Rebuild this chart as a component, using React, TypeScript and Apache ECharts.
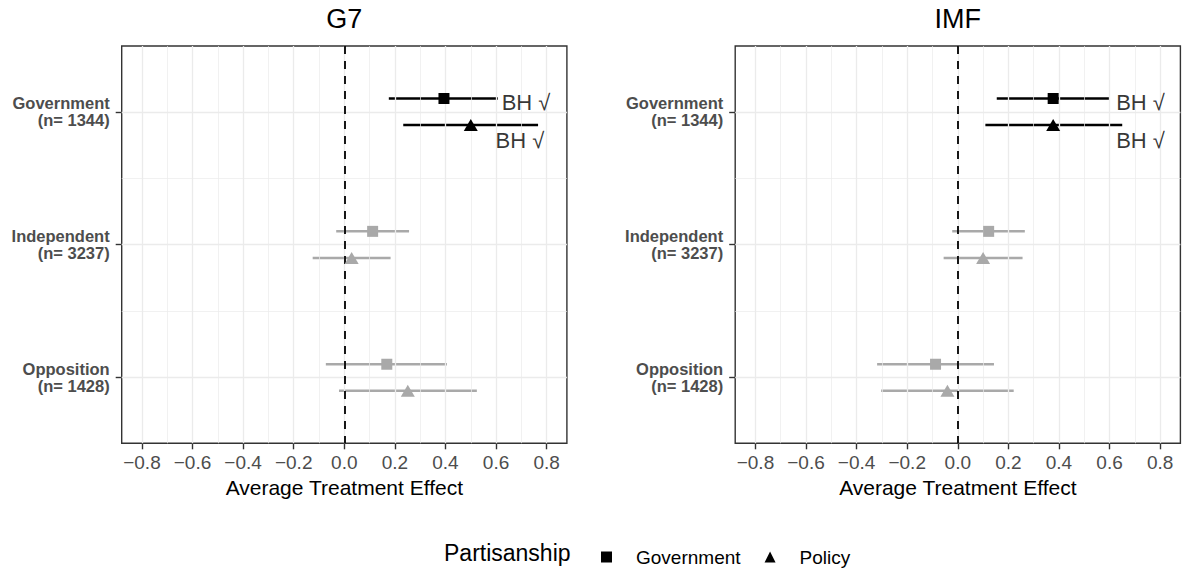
import React, { useEffect, useRef } from 'react';
import * as echarts from 'echarts';

// ---------- data ----------
const categories = ['Government', 'Independent', 'Opposition'];
const sampleSizes = [1344, 3237, 1428];
const panelTitles = ['G7', 'IMF'];
const seriesNames = ['Government', 'Policy'];
const xTickValues = [-0.8, -0.6, -0.4, -0.2, 0, 0.2, 0.4, 0.6, 0.8];
const xMinorValues = [-0.7, -0.5, -0.3, -0.1, 0.1, 0.3, 0.5, 0.7];
const yMajorValues = [1, 2, 3];
const yMinorValues = [1.5, 2.5];

// G7 panel
const g7GovEst = [0.394, 0.112, 0.168];
const g7GovLo = [0.176, -0.032, -0.073];
const g7GovHi = [0.607, 0.256, 0.406];
const g7GovSig = [true, false, false];
const g7PolEst = [0.5, 0.029, 0.251];
const g7PolLo = [0.233, -0.125, -0.021];
const g7PolHi = [0.766, 0.183, 0.524];
const g7PolSig = [true, false, false];
const g7BhX = [0.622, 0.598];
const g7BhY = [0.93, 1.213];

// IMF panel
const imfGovEst = [0.377, 0.122, -0.088];
const imfGovLo = [0.154, -0.022, -0.319];
const imfGovHi = [0.6, 0.265, 0.143];
const imfGovSig = [true, false, false];
const imfPolEst = [0.377, 0.1, -0.041];
const imfPolLo = [0.109, -0.056, -0.303];
const imfPolHi = [0.65, 0.256, 0.221];
const imfPolSig = [true, false, false];
const imfBhX = [0.626, 0.626];
const imfBhY = [0.93, 1.213];

const bhText = 'BH √';

// ---------- styling ----------
const FONT = '"Liberation Sans", Arial, Helvetica, sans-serif';
const SIG_COLOR = '#000000';
const NS_COLOR = '#A9A9A9';
const GRID_COLOR = '#EBEBEB';
const BORDER_COLOR = '#333333';
const LABEL_COLOR = '#4D4D4D';
const DODGE = 0.1;
const PANEL_TOP = 46;
const PANEL_HEIGHT = 397.3;
const PANEL_WIDTH = 445.2;
const PANEL_LEFTS = [121.7, 735.2];
const X_MIN = -0.88;
const X_MAX = 0.88;
const Y_MIN = 0.505;
const Y_MAX = 3.495;

type PanelData = {
  govEst: number[]; govLo: number[]; govHi: number[]; govSig: boolean[];
  polEst: number[]; polLo: number[]; polHi: number[]; polSig: boolean[];
  bhX: number[]; bhY: number[];
};

const panelData: PanelData[] = [
  { govEst: g7GovEst, govLo: g7GovLo, govHi: g7GovHi, govSig: g7GovSig,
    polEst: g7PolEst, polLo: g7PolLo, polHi: g7PolHi, polSig: g7PolSig,
    bhX: g7BhX, bhY: g7BhY },
  { govEst: imfGovEst, govLo: imfGovLo, govHi: imfGovHi, govSig: imfGovSig,
    polEst: imfPolEst, polLo: imfPolLo, polHi: imfPolHi, polSig: imfPolSig,
    bhX: imfBhX, bhY: imfBhY },
];

const fmtTick = (v: number) => {
  const s = (Math.abs(v) < 1e-9 ? 0 : v).toFixed(1);
  return s.replace('-', '\u2212');
};

function buildOption() {
  const grids: any[] = [];
  const xAxes: any[] = [];
  const yAxes: any[] = [];
  const series: any[] = [];
  const graphics: any[] = [];

  panelData.forEach((pd, i) => {
    grids.push({
      left: PANEL_LEFTS[i], top: PANEL_TOP, width: PANEL_WIDTH, height: PANEL_HEIGHT,
      show: true, borderColor: BORDER_COLOR, borderWidth: 1.4, backgroundColor: 'transparent',
      containLabel: false,
    });
    xAxes.push({
      type: 'value', gridIndex: i, min: X_MIN, max: X_MAX,
      axisLine: { show: false, onZero: false },
      axisTick: { show: true, customValues: xTickValues, length: 6, lineStyle: { color: BORDER_COLOR, width: 1.4 } },
      axisLabel: { show: true, customValues: xTickValues, formatter: fmtTick, fontSize: 19, color: LABEL_COLOR, margin: 10, fontFamily: FONT },
      splitLine: { show: false },
      name: 'Average Treatment Effect', nameLocation: 'middle', nameGap: 33,
      nameTextStyle: { fontSize: 21, color: '#000000', fontFamily: FONT },
    });
    yAxes.push({
      type: 'value', gridIndex: i, min: Y_MIN, max: Y_MAX, inverse: true,
      axisLine: { show: false, onZero: false },
      axisTick: { show: true, customValues: yMajorValues, length: 6, lineStyle: { color: BORDER_COLOR, width: 1.4 } },
      axisLabel: {
        show: true, customValues: yMajorValues,
        formatter: (v: number) => {
          const k = Math.round(v) - 1;
          return `${categories[k]}\n(n= ${sampleSizes[k]})`;
        },
        fontSize: 16.5, fontWeight: 'bold', color: LABEL_COLOR, lineHeight: 17, align: 'right', margin: 12, fontFamily: FONT,
      },
      splitLine: { show: false },
    });

    // grid lines (through the axes' scales via markLine)
    const gridLineData: any[] = [];
    xTickValues.forEach(v => gridLineData.push({ xAxis: v, lineStyle: { color: GRID_COLOR, width: 1.3, type: 'solid' } }));
    xMinorValues.forEach(v => gridLineData.push({ xAxis: v, lineStyle: { color: GRID_COLOR, width: 0.7, type: 'solid' } }));
    yMajorValues.forEach(v => gridLineData.push({ yAxis: v, lineStyle: { color: GRID_COLOR, width: 1.3, type: 'solid' } }));
    yMinorValues.forEach(v => gridLineData.push({ yAxis: v, lineStyle: { color: GRID_COLOR, width: 0.7, type: 'solid' } }));
    series.push({
      type: 'scatter', xAxisIndex: i, yAxisIndex: i, data: [], z: 1, silent: true,
      markLine: { silent: true, symbol: ['none', 'none'], label: { show: false }, emphasis: { disabled: true }, data: gridLineData, animation: false },
    });

    // error bars
    const barData: any[] = [];
    categories.forEach((_, k) => {
      barData.push([pd.govLo[k], pd.govHi[k], k + 1 - DODGE, pd.govSig[k] ? 1 : 0]);
      barData.push([pd.polLo[k], pd.polHi[k], k + 1 + DODGE, pd.polSig[k] ? 1 : 0]);
    });
    series.push({
      type: 'custom', xAxisIndex: i, yAxisIndex: i, z: 3, silent: true,
      data: barData,
      encode: { x: [0, 1], y: 2 },
      renderItem: (params: any, api: any) => {
        const y = api.value(2);
        const p1 = api.coord([api.value(0), y]);
        const p2 = api.coord([api.value(1), y]);
        return {
          type: 'line',
          shape: { x1: p1[0], y1: p1[1], x2: p2[0], y2: p2[1] },
          style: { stroke: api.value(3) ? SIG_COLOR : NS_COLOR, lineWidth: 2.5 },
        };
      },
    });

    // zero reference line
    series.push({
      type: 'scatter', xAxisIndex: i, yAxisIndex: i, data: [], z: 4, silent: true,
      markLine: {
        silent: true, symbol: ['none', 'none'], label: { show: false }, emphasis: { disabled: true }, animation: false,
        data: [{ xAxis: 0, lineStyle: { color: '#000000', width: 1.8, type: [8, 7] } }],
      },
    });

    // point estimates
    series.push({
      name: seriesNames[0], type: 'scatter', xAxisIndex: i, yAxisIndex: i, z: 5,
      symbol: 'rect', symbolSize: 11, itemStyle: { color: SIG_COLOR, opacity: 1 },
      data: categories.map((_, k) => ({
        value: [pd.govEst[k], k + 1 - DODGE],
        itemStyle: { color: pd.govSig[k] ? SIG_COLOR : NS_COLOR, opacity: 1 },
      })),
    });
    series.push({
      name: seriesNames[1], type: 'scatter', xAxisIndex: i, yAxisIndex: i, z: 5,
      symbol: 'triangle', symbolSize: [14, 12], itemStyle: { color: SIG_COLOR, opacity: 1 },
      data: categories.map((_, k) => ({
        value: [pd.polEst[k], k + 1 + DODGE],
        itemStyle: { color: pd.polSig[k] ? SIG_COLOR : NS_COLOR, opacity: 1 },
      })),
    });

    // BH annotations
    series.push({
      type: 'scatter', xAxisIndex: i, yAxisIndex: i, z: 6, silent: true,
      symbol: 'circle', symbolSize: 0, clip: false,
      data: pd.bhX.map((x, k) => [x, pd.bhY[k]]),
      label: {
        show: true, position: 'right', distance: 0, formatter: bhText,
        fontSize: 22, color: '#000000', fontFamily: FONT, align: 'left', verticalAlign: 'middle',
      },
    });

    graphics.push({
      type: 'text', x: PANEL_LEFTS[i] + PANEL_WIDTH / 2, y: 19,
      style: { text: panelTitles[i], fontSize: 27, fill: '#000000', fontFamily: FONT, align: 'center', verticalAlign: 'middle' },
    });
  });

  graphics.push({
    type: 'text', x: 444, y: 553,
    style: { text: 'Partisanship', fontSize: 23, fill: '#000000', fontFamily: FONT, align: 'left', verticalAlign: 'middle' },
  });

  return {
    animation: false,
    backgroundColor: '#FFFFFF',
    textStyle: { fontFamily: FONT },
    grid: grids,
    xAxis: xAxes,
    yAxis: yAxes,
    series,
    graphic: graphics,
    legend: {
      data: [
        { name: seriesNames[0], icon: 'rect' },
        { name: seriesNames[1], icon: 'triangle' },
      ],
      left: 601, top: 547.5, padding: 0,
      itemWidth: 11, itemHeight: 11, itemGap: 24,
      selectedMode: false,
      itemStyle: { color: '#000000' },
      textStyle: { fontSize: 19, color: '#000000', fontFamily: FONT, padding: [0, 0, 0, 19] },
    },
  };
}

export default function App() {
  const ref = useRef<HTMLDivElement>(null);
  useEffect(() => {
    if (!ref.current) return;
    const chart = echarts.init(ref.current, undefined, { renderer: 'svg' });
    chart.setOption(buildOption() as any);
    return () => chart.dispose();
  }, []);
  return (
    <div
      ref={ref}
      style={{ position: 'fixed', left: 0, top: 0, width: 1182, height: 569, background: '#FFFFFF' }}
    />
  );
}
